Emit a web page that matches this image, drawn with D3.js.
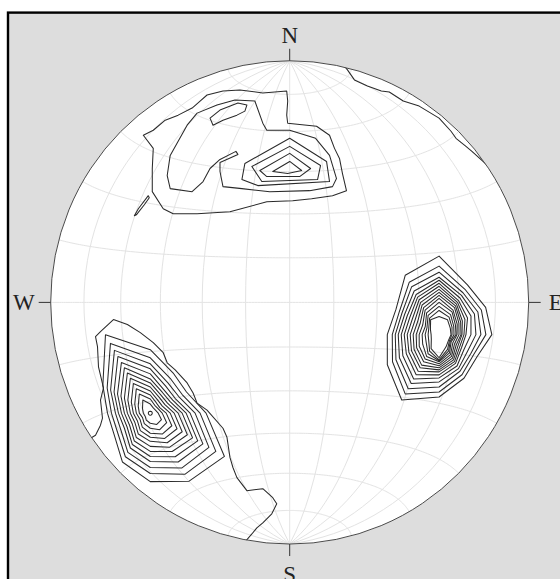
<!DOCTYPE html>
<html><head><meta charset="utf-8">
<script src="https://cdn.jsdelivr.net/npm/d3@7"></script>
<style>html,body{margin:0;padding:0;background:#fff;}svg{display:block;}</style>
</head><body>
<svg id="chart" width="560" height="579"></svg>
<script>
// ---------------- data (net units: primitive radius = 120, x east, y north) ----------------
const compassLabels = ["N", "E", "S", "W"];
const compassAzimuths = [0, 90, 180, 270];
const gridStepDeg = 15;

const ringAngles = [0, 30, 60, 90, 120, 150, 180, 210, 240, 270, 300, 330];

// Eastern maximum: nested contours, radii per direction from its centre
const eastCentre = [75, -16];
const eastRings = [
  [39,28.5,27,26.5,22,25,31,37.5,30,26,25,34],
  [34,26,24.5,23.5,20,23,28.5,34,27,23.5,23,30],
  [31,24,22.5,21,18.5,21,26,31,25,22,21.5,27.5],
  [28.5,22.5,20.5,18.5,16.5,19.5,23.5,28,23,20.5,20,25],
  [27,21,18.5,16,14.5,18,21.5,25.5,21,19,18.5,23],
  [25.5,19.5,16.5,13.5,13,16.5,20,23,19,17.5,17,21.5],
  [24,18.5,15,12.5,12,15.5,18.5,21,17.5,16,15.5,20],
  [22.5,17.5,13.5,11.5,11,14.5,17.5,19,16,14.5,14,18.5],
  [21,16.5,12.5,11,10,13.5,16.5,17.5,14.5,13,12.5,17],
  [19.5,15.5,11.5,10,9,12.5,15.5,15.5,13,11.5,11,15.5],
  [18,14,10.5,9,8,11.5,14.5,14,11.5,10,9.5,14],
  [16,13,9.5,8.5,7,10.5,13.5,12.5,9.5,8.5,8,12.5],
  [14,11.5,8.5,7.5,6.5,9.5,13,11,7.5,7,7,11],
  [12,10,7.5,6.5,6,8.5,12.5,9.5,6,5.5,6,9.5],
  [9,8.5,6.5,6,5.5,7,11.5,8,4.5,4,5,8.5]
];

// South-western maximum
const westCentre = [-70, -55];
const westRings = [
  [31.5,23,21,28,43,39,34,28,21,21.5,27.5,45],
  [27.5,20,18.5,25,38,35,30,25,19,19.5,25,40],
  [24.5,17.5,16.5,22.5,34,31.5,27,22.5,17,17.5,23,36],
  [22,15.5,14.5,20,30.5,28,24,20,15,16,21,32.5],
  [19.5,13.5,13,18,27.5,25,21.5,18,13.5,14.5,19,29],
  [17,12,11.5,16,24.5,22,19,16,12,13,17,26],
  [15,10.5,10,14,21.5,19.5,16.5,14,10.5,11.5,15,23],
  [13,9,8.5,12,18.5,17,14,12,9,10,13,20],
  [11,7.5,7,10,15.5,14.5,12,10,7.5,8.5,11,17],
  [9,6,5.5,8,12.5,12,10,8,6,7,9,14],
  [7,4.5,4.5,6,9.5,9.5,7.5,6,4.5,5.5,7,11],
  [4.5,3,3,4,6.5,6.5,5,4,3,3.5,4.5,7.5],
  [1,1,1,1,1,1,1,1,1,1,1,1]
];
// outer south-western contour (open, ends on the primitive)
const westOuter = [[-100,-67.5],[-97.5,-66],[-95,-61],[-94,-57.5],[-95,-48.5],[-93.5,-42.5],[-96,-32],[-96.5,-22],[-97.5,-17],[-95,-14.5],[-88.5,-8.5],[-81.5,-11],[-75,-15],[-68.5,-20],[-63.5,-25],[-61.5,-30],[-57.5,-33.5],[-51.5,-40],[-48.5,-45],[-46.5,-50],[-41.5,-53.5],[-33.5,-62.5],[-31.5,-67],[-30,-77],[-28.5,-82],[-26.5,-87],[-21.5,-93.5],[-13.5,-92.5],[-8.5,-97],[-6.5,-100],[-9,-105],[-13.5,-109.5],[-16.5,-112],[-19,-115],[-22.5,-119]];

// Northern maxima
const northOuter = [[-73.5,83],[-68.5,85.5],[-62.5,90.5],[-56,93],[-49,96.5],[-45,100],[-41.5,103],[-33.5,105],[-25,105.5],[-13.5,104],[-1.5,105],[-1,100],[-1.5,93],[-1,89],[13.5,87.5],[20,83],[22.5,76.5],[25,71.5],[26.5,64],[28.5,55.5],[21.5,53],[11,51.5],[1.5,50.5],[-11.5,50],[-30,45],[-46.5,44],[-58.5,44],[-63.5,46.5],[-69,55],[-69,66.5],[-68.5,76.5]];
const northSecond = [[-61.5,63],[-60,73],[-56,80],[-51.5,88],[-46.5,94],[-36.5,98],[-27.5,100.5],[-17.5,100],[-13.5,89],[-11.5,85.5],[0,85.5],[13,81.5],[20,73],[23.5,61.5],[21.5,57.5],[10,55.5],[-10,55],[-24,56.5],[-33.5,57.5],[-35,65],[-35,69.5],[-26,73.5],[-27,75],[-35,71],[-40,66.5],[-43.5,60],[-49,55],[-60,56.5]];
const northSmall = [[-40,91.5],[-38.5,88],[-33.5,90.5],[-26.5,93],[-22.5,95],[-21.5,98],[-26,99],[-35,95.5]];
const northTriangles = [
  [[-22.5,69],[0,81.5],[18.5,70],[20,60],[-16,58],[-24,61]],
  [[-19,67.5],[0,77.5],[15.5,68],[14,61],[-14,60]],
  [[-15,65.5],[0,74],[10.5,66.5],[5,62.5],[-11.5,62.5]],
  [[-8.5,65],[0,70],[6,65.5],[-1,64]]
];
const northEastEdge = [[26.5,118.5],[29,115.5],[32.5,110.5],[39,107.5],[46,105],[50,104.5],[57,100],[65,97.5],[75,91.5],[81,85],[83.5,81.5],[88.5,77.5],[91.5,75],[96.5,70.5],[100,67.5]];
const westSliver = [[-71,53],[-76,46.5],[-78,43],[-77,43.5],[-73,48.5],[-70.5,52]];

// ---------------- drawing ----------------
const W = 560, H = 579;
const cx = 289.7, cy = 302.4, R = 239, yStretch = 1.011, NET_R = 120;
const svg = d3.select("#chart");

svg.append("rect").attr("x", 0).attr("y", 0).attr("width", W).attr("height", H).attr("fill", "#ffffff");
svg.append("rect").attr("x", 8).attr("y", 12.6).attr("width", W + 20).attr("height", H + 20)
  .attr("fill", "#dddddd").attr("stroke", "#000").attr("stroke-width", 2.4);

const net = svg.append("g")
  .attr("transform", `translate(${cx},${cy}) scale(1,${yStretch}) translate(${-cx},${-cy})`);

const xNet = d3.scaleLinear().domain([-NET_R, NET_R]).range([cx - R, cx + R]);
const yNet = d3.scaleLinear().domain([-NET_R, NET_R]).range([cy + R, cy - R]);

const projection = d3.geoAzimuthalEqualArea()
  .rotate([0, 0]).scale(R / Math.SQRT2).translate([cx, cy])
  .clipAngle(90 - 1e-6).precision(0.1);
const geoPath = d3.geoPath(projection);

net.append("circle").attr("cx", cx).attr("cy", cy).attr("r", R).attr("fill", "#ffffff");

const graticule = d3.geoGraticule()
  .extentMajor([[-180, -90], [180, 90]])
  .extentMinor([[-180, -90], [180, 90]])
  .step([gridStepDeg, gridStepDeg]).precision(1);
net.append("path").datum(graticule())
  .attr("d", geoPath).attr("fill", "none").attr("stroke", "#e3e3e3").attr("stroke-width", 1)
  .attr("vector-effect", "non-scaling-stroke");

svg.append("clipPath").attr("id", "netclip").append("circle").attr("cx", cx).attr("cy", cy).attr("r", R);
const g = net.append("g").attr("clip-path", "url(#netclip)");

const line = d3.line().x(d => xNet(d[0])).y(d => yNet(d[1]));
const closedLine = d3.line().x(d => xNet(d[0])).y(d => yNet(d[1])).curve(d3.curveLinearClosed);
const rad = Math.PI / 180;
function ringPoints(centre, radii) {
  return radii.map((r, i) => [centre[0] + r * Math.sin(ringAngles[i] * rad), centre[1] + r * Math.cos(ringAngles[i] * rad)]);
}
const contourStyle = sel => sel.attr("fill", "none").attr("stroke", "#2a2a2a").attr("stroke-width", 1.05)
  .attr("stroke-linejoin", "round").attr("vector-effect", "non-scaling-stroke");

const closedSets = [northOuter, northSecond, northSmall, ...northTriangles, westSliver,
  ...eastRings.map(r => ringPoints(eastCentre, r)),
  ...westRings.map(r => ringPoints(westCentre, r))];
g.selectAll("path.closed").data(closedSets).join("path").attr("class", "closed")
  .attr("d", closedLine).call(contourStyle);
g.selectAll("path.open").data([westOuter, northEastEdge]).join("path").attr("class", "open")
  .attr("d", line).call(contourStyle);

net.append("circle").attr("cx", cx).attr("cy", cy).attr("r", R)
  .attr("fill", "none").attr("stroke", "#4a4a4a").attr("stroke-width", 1)
  .attr("vector-effect", "non-scaling-stroke");

// compass ticks and labels
const Ry = R * yStretch;
const tickLen = 12;
compassAzimuths.forEach((az, i) => {
  const s = Math.sin(az * rad), c = -Math.cos(az * rad);
  const rr = (az % 180 === 0) ? Ry : R;
  svg.append("line")
    .attr("x1", cx + s * rr).attr("y1", cy + c * rr)
    .attr("x2", cx + s * (rr + tickLen)).attr("y2", cy + c * (rr + tickLen))
    .attr("stroke", "#333").attr("stroke-width", 1);
  const t = svg.append("text").text(compassLabels[i])
    .attr("font-family", "'Liberation Serif', 'DejaVu Serif', serif")
    .attr("font-size", 23).attr("fill", "#222");
  if (az === 0) t.attr("x", cx).attr("y", cy - Ry - 18).attr("text-anchor", "middle");
  else if (az === 180) t.attr("x", cx).attr("y", cy + Ry + 38).attr("text-anchor", "middle");
  else if (az === 90) t.attr("x", cx + R + 20).attr("y", cy + 8).attr("text-anchor", "start");
  else t.attr("x", cx - R - 16).attr("y", cy + 8).attr("text-anchor", "end");
});
</script>
</body></html>
